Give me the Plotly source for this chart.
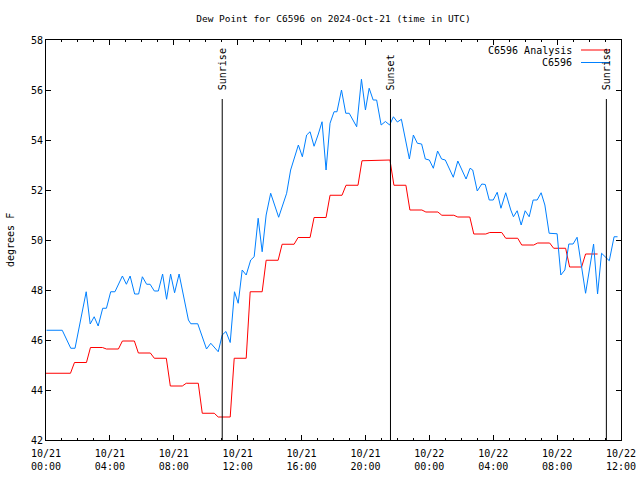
import pandas as pd
import plotly.graph_objects as go

# ---- data ----
blue_times = [
    "2024-10-21 00:02", "2024-10-21 01:01", "2024-10-21 01:33", "2024-10-21 01:49",
    "2024-10-21 02:31", "2024-10-21 02:46", "2024-10-21 03:01", "2024-10-21 03:16",
    "2024-10-21 03:33", "2024-10-21 03:47", "2024-10-21 04:03", "2024-10-21 04:19",
    "2024-10-21 04:47", "2024-10-21 05:02", "2024-10-21 05:16", "2024-10-21 05:33",
    "2024-10-21 05:48", "2024-10-21 06:02", "2024-10-21 06:18", "2024-10-21 06:31",
    "2024-10-21 06:47", "2024-10-21 07:02", "2024-10-21 07:18", "2024-10-21 07:33",
    "2024-10-21 07:48", "2024-10-21 08:03", "2024-10-21 08:20", "2024-10-21 08:55",
    "2024-10-21 09:04", "2024-10-21 09:30", "2024-10-21 10:03", "2024-10-21 10:19",
    "2024-10-21 10:47", "2024-10-21 11:02", "2024-10-21 11:16", "2024-10-21 11:32",
    "2024-10-21 11:48", "2024-10-21 12:02", "2024-10-21 12:17", "2024-10-21 12:32",
    "2024-10-21 12:49", "2024-10-21 13:02", "2024-10-21 13:17", "2024-10-21 13:32",
    "2024-10-21 13:47", "2024-10-21 14:04", "2024-10-21 14:34", "2024-10-21 15:04",
    "2024-10-21 15:19", "2024-10-21 15:48", "2024-10-21 16:03", "2024-10-21 16:19",
    "2024-10-21 16:32", "2024-10-21 16:47", "2024-10-21 17:03", "2024-10-21 17:17",
    "2024-10-21 17:32", "2024-10-21 17:47", "2024-10-21 18:02", "2024-10-21 18:13",
    "2024-10-21 18:30", "2024-10-21 18:46", "2024-10-21 18:59", "2024-10-21 19:27",
    "2024-10-21 19:45", "2024-10-21 20:00", "2024-10-21 20:14", "2024-10-21 20:29",
    "2024-10-21 20:42", "2024-10-21 20:59", "2024-10-21 21:15", "2024-10-21 21:31",
    "2024-10-21 21:45", "2024-10-21 22:00", "2024-10-21 22:15", "2024-10-21 22:45",
    "2024-10-21 23:00", "2024-10-21 23:15", "2024-10-21 23:31", "2024-10-21 23:45",
    "2024-10-22 00:00", "2024-10-22 00:15", "2024-10-22 00:31", "2024-10-22 00:46",
    "2024-10-22 01:00", "2024-10-22 01:30", "2024-10-22 01:47", "2024-10-22 02:18",
    "2024-10-22 02:33", "2024-10-22 02:43", "2024-10-22 03:00", "2024-10-22 03:17",
    "2024-10-22 03:30", "2024-10-22 03:45", "2024-10-22 04:00", "2024-10-22 04:15",
    "2024-10-22 04:29", "2024-10-22 04:47", "2024-10-22 05:06", "2024-10-22 05:16",
    "2024-10-22 05:30", "2024-10-22 05:45", "2024-10-22 06:00", "2024-10-22 06:15",
    "2024-10-22 06:30", "2024-10-22 06:45", "2024-10-22 07:00", "2024-10-22 07:14",
    "2024-10-22 07:30", "2024-10-22 08:00", "2024-10-22 08:14", "2024-10-22 08:29",
    "2024-10-22 08:44", "2024-10-22 09:00", "2024-10-22 09:15", "2024-10-22 09:47",
    "2024-10-22 10:17", "2024-10-22 10:32", "2024-10-22 10:47", "2024-10-22 11:04",
    "2024-10-22 11:16", "2024-10-22 11:34", "2024-10-22 11:47",
]
blue_values = [
    46.39, 46.39, 45.67, 45.67, 47.93, 46.64, 46.93, 46.56,
    47.27, 47.27, 47.93, 47.93, 48.56, 48.23, 48.56, 47.84,
    47.84, 48.53, 48.23, 48.23, 47.96, 47.96, 48.64, 47.63,
    48.64, 47.89, 48.64, 46.80, 46.65, 46.65, 45.64, 45.87,
    45.53, 46.20, 46.34, 45.90, 47.93, 47.47, 48.80, 48.60,
    49.20, 49.33, 50.87, 49.53, 51.00, 51.87, 50.91, 51.87,
    52.80, 53.80, 53.33, 54.20, 54.33, 53.75, 54.24, 54.73,
    52.80, 54.67, 55.13, 55.13, 56.00, 55.07, 55.07, 54.53,
    56.43, 55.20, 56.07, 55.60, 55.60, 54.60, 54.74, 54.60,
    54.93, 54.72, 54.83, 53.24, 54.20, 53.87, 53.84, 53.24,
    53.20, 52.87, 53.56, 53.24, 53.20, 52.51, 53.16, 52.44,
    52.87, 52.80, 51.96, 52.24, 52.22, 51.60, 51.60, 51.91,
    51.27, 51.89, 51.20, 50.93, 51.17, 50.60, 51.17, 50.93,
    51.60, 51.60, 51.89, 51.40, 50.27, 50.25, 48.60, 48.80,
    49.84, 49.84, 50.11, 47.87, 49.84, 47.84, 49.47, 49.31,
    49.17, 50.13, 50.13,
]

# hourly analysis values (hour 0 .. hour 34 of the period)
analysis_start = "2024-10-21 00:00"
analysis_values = [
    44.67, 44.67, 45.10, 45.70, 45.64, 45.96, 45.48, 45.27, 44.16, 44.27,
    43.07, 42.92, 45.27, 47.93, 49.19, 49.83, 50.10, 50.90, 51.79, 52.19,
    53.17, 53.20, 52.19, 51.20, 51.12, 50.99, 50.92, 50.24, 50.30, 50.07,
    49.80, 49.88, 49.67, 48.92, 49.44,
]

event_times = ["2024-10-21 11:02", "2024-10-21 21:34", "2024-10-22 11:05"]
event_labels = ["Sunrise", "Sunset", "Sunrise"]

series_names = ["C6596 Analysis", "C6596"]
series_colors = ["#ff0000", "#0080ff"]

title_text = "Dew Point for C6596 on 2024-Oct-21 (time in UTC)"
y_label = "degrees F"
x_range = ["2024-10-21 00:00", "2024-10-22 12:00"]
y_range = [42, 58]

# build analysis step series: each hourly value held from previous hour :47 to this hour :32
t0 = pd.Timestamp(analysis_start)
red_x, red_y = [], []
for k, v in enumerate(analysis_values):
    start = max(t0, t0 + pd.Timedelta(hours=k - 1, minutes=47))
    end = t0 + pd.Timedelta(hours=k, minutes=32)
    red_x += [start, end]
    red_y += [v, v]

FONT = "DejaVu Sans Mono"

fig = go.Figure()
fig.add_trace(go.Scatter(x=red_x, y=red_y, mode="lines", name=series_names[0],
                         line=dict(color=series_colors[0], width=1)))
fig.add_trace(go.Scatter(x=pd.to_datetime(blue_times), y=blue_values, mode="lines",
                         name=series_names[1],
                         line=dict(color=series_colors[1], width=1)))

L, R, T, B = 46, 19, 40, 40
pw, ph = 640 - L - R, 480 - T - B

for t, lab in zip(event_times, event_labels):
    fig.add_shape(type="line", xref="x", yref="paper", x0=t, x1=t, y0=0,
                  y1=(ph - 59) / ph, line=dict(color="black", width=1))
    fig.add_annotation(x=t, xref="x", yref="paper", y=(ph - 52) / ph, text=lab,
                       textangle=-90, showarrow=False, xanchor="center", yanchor="bottom",
                       font=dict(family=FONT, size=10, color="black"))

# legend (gnuplot style: text then sample)
for i, (nm, col) in enumerate(zip(series_names, series_colors)):
    ypx = 50 + i * 12.5
    yp = (440 - ypx) / ph
    fig.add_annotation(xref="paper", yref="paper", x=(574 - L) / pw, y=yp, text=nm,
                       showarrow=False, xanchor="right", yanchor="middle",
                       font=dict(family=FONT, size=10, color="black"))
    fig.add_shape(type="line", xref="paper", yref="paper", x0=(581 - L) / pw,
                  x1=(610 - L) / pw, y0=yp, y1=yp, line=dict(color=col, width=1))

fig.add_annotation(xref="paper", yref="paper", x=-(L - 10) / pw, y=0.5, text=y_label,
                   textangle=-90, showarrow=False, xanchor="center", yanchor="middle",
                   font=dict(family=FONT, size=10, color="black"))

fig.update_layout(
    width=640, height=480,
    margin=dict(l=L, r=R, t=T, b=B, autoexpand=False),
    paper_bgcolor="white", plot_bgcolor="white",
    showlegend=False,
    title=dict(text=title_text, x=(L + pw / 2) / 640, xanchor="center",
               y=1 - 19 / 480, yanchor="middle",
               font=dict(family=FONT, size=9.5, color="black")),
    font=dict(family=FONT, size=10, color="black"),
)
fig.update_xaxes(
    type="date", range=x_range, tick0="2024-10-21 00:00", dtick=4 * 3600000,
    tickformat="%m/%d<br>%H:%M", ticks="inside", ticklen=5, tickcolor="black",
    mirror="allticks", showline=True, linecolor="black", linewidth=1,
    showgrid=False, zeroline=False, automargin=False, ticklabelstandoff=4,
    tickfont=dict(family=FONT, size=10, color="black"),
    minor=dict(dtick=3600000, ticks="inside", ticklen=2, tickcolor="black", showgrid=False),
)
fig.update_yaxes(
    range=y_range, dtick=2, ticks="inside", ticklen=5, tickcolor="black",
    mirror="allticks", showline=True, linecolor="black", linewidth=1,
    showgrid=False, zeroline=False, automargin=False,
    tickfont=dict(family=FONT, size=10, color="black"),
)

fig.write_html(
    "out.html",
    config={"displayModeBar": False},
    post_script="document.body.style.margin='0';document.body.style.overflow='hidden';",
)
